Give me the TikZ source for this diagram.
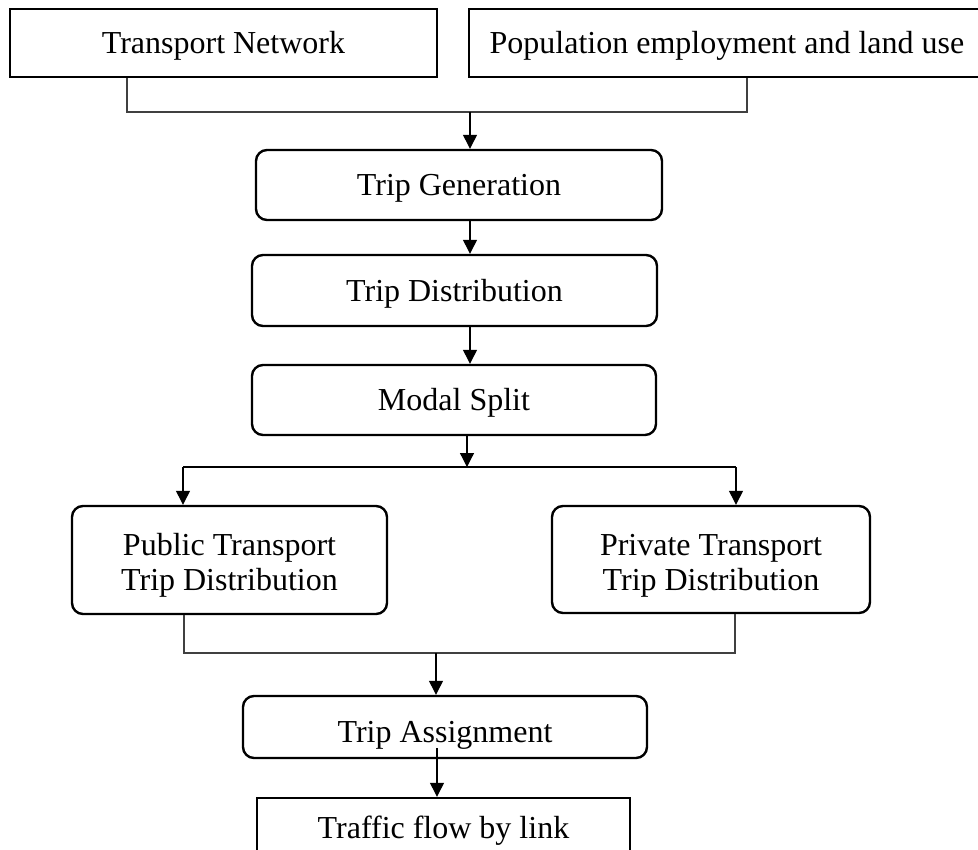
\documentclass[tikz,border=0pt]{standalone}
\usepackage{fontspec}
\setmainfont{Liberation Serif}
\usetikzlibrary{arrows.meta,calc}

\tikzset{
  plainbox/.style={draw, line width=2.4pt, rectangle, inner sep=0pt, align=center,
    font=\fontsize{32}{35}\selectfont},
  oneline/.style={text height=22pt, text depth=0pt},
  roundbox/.style={plainbox, rounded corners=11pt},
  joinline/.style={draw=black!75, line width=1.3pt},
  arr/.style={draw=black, line width=1.3pt, -{Triangle[length=14pt,width=14pt]}},
}
% two centred lines, set a little below the middle of their box
\newcommand{\twolines}[2]{\raisebox{-12.5pt}[0pt][0pt]{\begin{tabular}{@{}c@{}}#1\\#2\end{tabular}}}

\begin{document}
\begin{tikzpicture}[x=1pt, y=-1pt]
  \clip (0,0) rectangle (978,850);
  \useasboundingbox (0,0) rectangle (978,850);

  % input boxes
  \node[plainbox, oneline, minimum width=427pt, minimum height=68pt] (tn) at (223.5,43) {Transport Network};
  \node[plainbox, oneline, minimum width=516pt, minimum height=68pt] (pop) at (727,43) {Population employment and land use};

  % main chain
  \node[roundbox, oneline, minimum width=406pt, minimum height=70pt] (tg) at (459,185) {Trip Generation};
  \node[roundbox, oneline, minimum width=405pt, minimum height=71pt] (td) at (454.5,290.5) {Trip Distribution};
  \node[roundbox, oneline, minimum width=404pt, minimum height=70pt] (ms) at (454,400) {Modal Split};

  % split by mode
  \node[roundbox, minimum width=315pt, minimum height=108pt] (pub) at (229.5,560) {\twolines{Public Transport}{Trip Distribution}};
  \node[roundbox, minimum width=318pt, minimum height=107pt] (pri) at (711,559.5) {\twolines{Private Transport}{Trip Distribution}};

  % assignment and output
  \node[roundbox, oneline, minimum width=404pt, minimum height=62pt] (ta) at (445,727) {\raisebox{-4pt}{Trip Assignment}};
  \node[plainbox, oneline, minimum width=373pt, minimum height=58pt] (tf) at (443.5,827) {Traffic flow by link};

  % junction points
  \coordinate (jtop) at (470,112);
  \coordinate (jsplit) at (467,467);
  \coordinate (jmerge) at (436,653);
  \coordinate (tastart) at (437,748);

  % inputs merge into trip generation
  \draw[joinline] (127,0 |- tn.south) -- (127,112) -- (747,112) -- (747,0 |- pop.south);
  \draw[arr] (jtop) -- (jtop |- tg.north);

  % chain arrows
  \draw[arr] (470,0 |- tg.south) -- (470,0 |- td.north);
  \draw[arr] (470,0 |- td.south) -- (470,0 |- ms.north);
  \draw[arr] (jsplit |- ms.south) -- (jsplit);

  % split line and branches
  \draw[line width=1.3pt] (183,467) -- (736,467);
  \draw[arr] (183,467) -- (183,0 |- pub.north);
  \draw[arr] (736,467) -- (736,0 |- pri.north);

  % branches merge into assignment
  \draw[joinline] (184,0 |- pub.south) -- (184,653) -- (735,653) -- (735,0 |- pri.south);
  \draw[arr] (jmerge) -- (jmerge |- ta.north);

  % assignment to traffic flow
  \draw[arr] (tastart) -- (tastart |- tf.north);
\end{tikzpicture}
\end{document}
